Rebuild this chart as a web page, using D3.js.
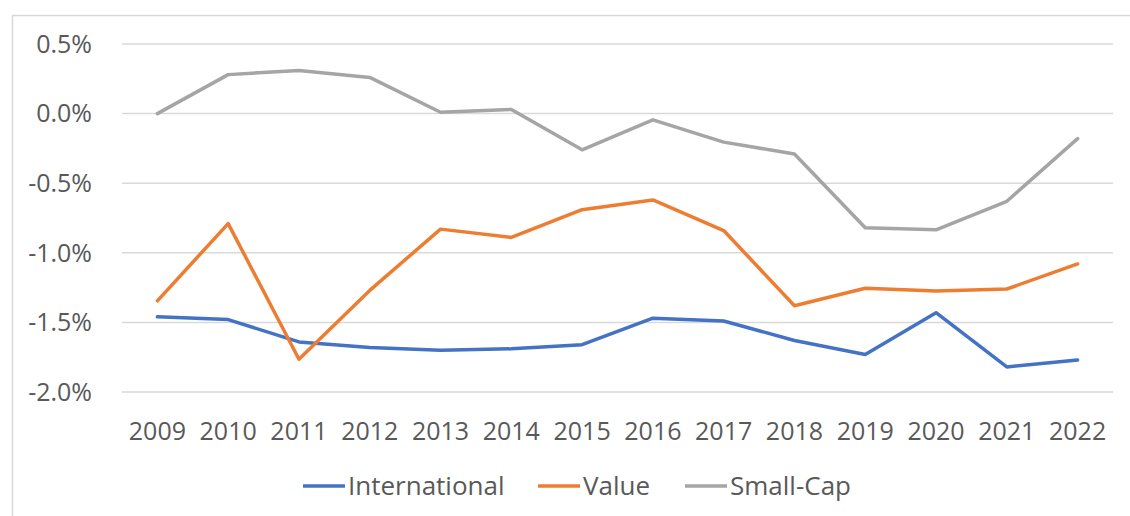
<!DOCTYPE html>
<html>
<head>
<meta charset="utf-8">
<script src="https://cdn.jsdelivr.net/npm/d3@7"></script>
<style>
  html, body { margin: 0; padding: 0; background: #ffffff; }
  svg { display: block; }
  text { font-family: "Open Sans", "Noto Sans", sans-serif; fill: #595959; }
</style>
</head>
<body>
<svg id="chart" width="1130" height="516"></svg>
<script>
// Years on the category axis
const years = ["2009","2010","2011","2012","2013","2014","2015","2016","2017","2018","2019","2020","2021","2022"];

// Annual values, in percent
const international = [-1.46, -1.48, -1.64, -1.68, -1.70, -1.69, -1.66, -1.47, -1.49, -1.63, -1.73, -1.43, -1.82, -1.77];
const valueSeries   = [-1.345, -0.79, -1.765, -1.27, -0.83, -0.89, -0.69, -0.62, -0.84, -1.38, -1.255, -1.275, -1.26, -1.08];
const smallCap      = [0.00, 0.28, 0.31, 0.26, 0.01, 0.03, -0.26, -0.045, -0.205, -0.29, -0.82, -0.835, -0.63, -0.18];

// Value axis ticks
const yTicks = [0.5, 0.0, -0.5, -1.0, -1.5, -2.0];

const seriesNames  = ["International", "Value", "Small-Cap"];
const seriesColors = ["#4472C4", "#ED7D31", "#A5A5A5"];
const seriesData   = [international, valueSeries, smallCap];

const svg = d3.select("#chart");

// outer chart frame
svg.append("rect")
  .attr("x", 12.5).attr("y", 15.5)
  .attr("width", 1200).attr("height", 600)
  .attr("fill", "none")
  .attr("stroke", "#d9d9d9")
  .attr("stroke-width", 1.5);

const plotLeft = 122, plotRight = 1113;
const x = d3.scaleBand().domain(years).range([plotLeft, plotRight]).padding(0);
const y = d3.scaleLinear().domain([-2.0, 0.5]).range([392, 44]);
const cx = d => x(d) + x.bandwidth() / 2;

// percent label with a plain hyphen for negatives
const pct = d => d.toFixed(1).replace("\u2212", "-") + "%";

// horizontal gridlines
svg.append("g")
  .selectAll("line")
  .data(yTicks)
  .join("line")
  .attr("x1", plotLeft).attr("x2", plotRight)
  .attr("y1", d => y(d)).attr("y2", d => y(d))
  .attr("stroke", "#d9d9d9")
  .attr("stroke-width", 1.5);

// value axis labels
svg.append("g")
  .selectAll("text")
  .data(yTicks)
  .join("text")
  .attr("x", 92)
  .attr("y", d => y(d))
  .attr("dy", "0.35em")
  .attr("text-anchor", "end")
  .attr("font-size", 25)
  .text(d => pct(d));

// category labels
svg.append("g")
  .selectAll("text")
  .data(years)
  .join("text")
  .attr("x", d => cx(d))
  .attr("y", 440)
  .attr("text-anchor", "middle")
  .attr("font-size", 25)
  .text(d => d);

// series lines
const line = d3.line()
  .x((d, i) => cx(years[i]))
  .y(d => y(d));

svg.append("g")
  .selectAll("path")
  .data(seriesData)
  .join("path")
  .attr("d", d => line(d))
  .attr("fill", "none")
  .attr("stroke", (d, i) => seriesColors[i])
  .attr("stroke-width", 3.5)
  .attr("stroke-linejoin", "round")
  .attr("stroke-linecap", "round");

// legend
const legendItems = [
  { name: seriesNames[0], color: seriesColors[0], x: 303 },
  { name: seriesNames[1], color: seriesColors[1], x: 538 },
  { name: seriesNames[2], color: seriesColors[2], x: 685 }
];
const lg = svg.append("g");
legendItems.forEach(it => {
  lg.append("line")
    .attr("x1", it.x).attr("x2", it.x + 42)
    .attr("y1", 486).attr("y2", 486)
    .attr("stroke", it.color)
    .attr("stroke-width", 3.5);
  lg.append("text")
    .attr("x", it.x + 45)
    .attr("y", 495)
    .attr("font-size", 26)
    .text(it.name);
});
</script>
</body>
</html>
